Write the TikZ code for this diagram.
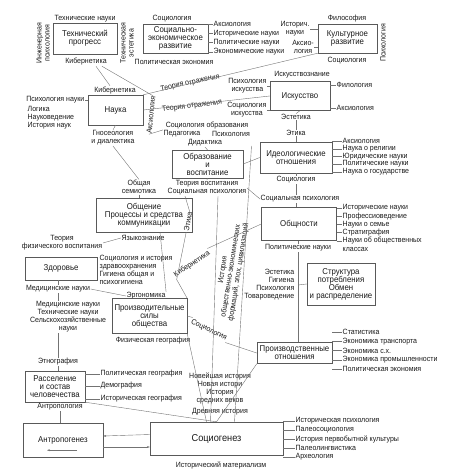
\documentclass[tikz,border=0pt]{standalone}
\usepackage{fontspec}
\setmainfont{Liberation Sans}[FakeStretch=0.92]
\usetikzlibrary{arrows.meta,positioning,calc}

\tikzset{
  box/.style={draw=black!65, thin, align=center, inner sep=1pt, text=black!90,
    font=\fontsize{8.5}{8}\selectfont},
  lbl/.style={inner sep=0.5pt, align=center, text=black!90,
    font=\fontsize{7.6}{8}\selectfont},
  conn/.style={draw=black!55, thin},
}

\begin{document}
\begin{tikzpicture}[x=1pt,y=-1pt]
\useasboundingbox (0,0) rectangle (449,474);

% top row
\node[lbl, rotate=90] (ingpsy) at (43,43) {Инженерная\\психология};
\node[lbl] (technauki) at (85,19) {Технические науки};
\node[box, minimum width=64pt, minimum height=31pt] (techprog) at (85,38.5) {Технический\\прогресс};
\node[lbl, rotate=90] (techaes) at (127,43) {Техническая\\эстетика};
\node[lbl] (kib1) at (86,62) {Кибернетика};
\node[lbl] (soc1) at (172,19) {Социология};
\node[box, minimum width=65pt, minimum height=29pt] (socecon) at (175.5,38.5) {Социально-\\экономическое\\развитие};
\foreach \t [count=\i] in {Аксиология,Исторические науки,Политические науки,Экономические науки}
  \node[lbl, anchor=west] (se\i) at (213,{24+(\i-1)*9.3}) {\t};
\foreach \i in {1,...,4}
  \draw[conn] (socecon.east |- se\i.west) -- (se\i.west);
\node[lbl] (polek1) at (174,62) {Политическая экономия};
\node[lbl] (istn) at (295,29) {Историч.\\науки};
\node[lbl] (aksio) at (303,47) {Аксио-\\логия};
\node[lbl] (filos) at (347,19) {Философия};
\node[box, minimum width=59pt, minimum height=29pt] (cult) at (347.5,38.5) {Культурное\\развитие};
\draw[conn] (istn.east) -- (cult.west |- istn.east);
\draw[conn] (aksio.east) -- (cult.west |- aksio.east);
\node[lbl, rotate=90] (psy1) at (383,43) {Психология};
\node[lbl] (soc2) at (347,61) {Социология};

% science and art
\node[lbl] (kib2) at (115,90) {Кибернетика};
\node[box, minimum width=55pt, minimum height=30pt] (nauka) at (115.5,110) {Наука};
\node[lbl, anchor=east] (psn) at (85,100) {Психология науки};
\draw[conn] (psn.east) -- (nauka.west |- psn.east);
\node[lbl, anchor=west, align=left] (logika) at (27,118) {Логика\\Науковедение\\История наук};
\node[lbl, rotate=84] (aks2) at (151,115) {Аксиология};
\node[lbl, rotate=12] (teor1) at (190,83) {Теория отражения};
\node[lbl] (iskved) at (302,75) {Искусствознание};
\node[box, minimum width=60pt, minimum height=29pt] (isk) at (300,96) {Искусство};
\node[lbl, anchor=east] (psyisk) at (267,86) {Психология\\искусства};
\node[lbl, rotate=7] (teor2) at (192,106) {Теория отражения};
\node[lbl, anchor=east] (sociisk) at (267,110) {Социология\\искусства};
\draw[conn] (psyisk.east) -- (isk.west |- psyisk.east);
\draw[conn] (sociisk.east) -- (isk.west |- sociisk.east);
\node[lbl, anchor=west] (filol) at (336,85) {Филология};
\node[lbl, anchor=west] (aks3) at (336,108) {Аксиология};
\draw[conn] (filol.west) -- (isk.east |- filol.west);
\draw[conn] (aks3.west) -- (isk.east |- aks3.west);
\node[lbl] (estet1) at (296,117) {Эстетика};
\node[lbl] (etika1) at (296,133) {Этика};

% education and ideology
\node[lbl] (gnos) at (113,138) {Гносеология\\и диалектика};
\node[lbl] (socobr) at (207,125) {Социология образования};
\node[lbl] (pedag) at (182,134) {Педагогика};
\node[lbl] (psy2) at (231,134) {Психология};
\node[lbl] (didak) at (205,143) {Дидактика};
\node[box, minimum width=71pt, minimum height=28pt] (obraz) at (207.5,164) {Образование\\и\\воспитание};
\node[box, minimum width=72pt, minimum height=31pt] (ideol) at (296,157.5) {Идеологические\\отношения};
\foreach \t [count=\i] in {Аксиология,Наука о религии,Юридические науки,Политические науки,Наука о государстве}
  \node[lbl, anchor=west] (id\i) at (342,{141+(\i-1)*7.7}) {\t};
\foreach \i in {1,...,5}
  \draw[conn] (ideol.east |- id\i.west) -- (id\i.west);
\node[lbl] (soc3) at (296,180) {Социология};
\node[lbl] (obsem) at (139,187) {Общая\\семиотика};
\node[lbl] (teorvosp) at (207,188) {Теория воспитания\\Социальная психология};
\node[lbl] (socpsy2) at (300,199) {Социальная психология};
\coordinate (vtop) at ($(obraz.north east)!0.5!(ideol.north west)$);

% communication and communities
\node[box, minimum width=96pt, minimum height=34pt] (obsh) at (144,215) {Общение\\Процессы и средства\\коммуникации};
\node[box, minimum width=75pt, minimum height=33pt] (obshn) at (299,224) {Общности};
\foreach \t [count=\i] in {Исторические науки,Профессиоведение,Науки о семье,Стратиграфия,Науки об общественных}
  \node[lbl, anchor=west] (ob\i) at (342,{208+(\i-1)*8.2}) {\t};
\node[lbl, anchor=west] (ob6) at (342,249) {классах};
\foreach \i in {1,...,5}
  \draw[conn] (obshn.east |- ob\i.west) -- (ob\i.west);
\node[lbl] (polnauki) at (298,248) {Политические науки};
\node[lbl, rotate=80] (etika2) at (188,222) {Этика};
\node[lbl] (yazyk) at (143,238) {Языкознание};

% health and productive forces
\node[lbl] (teorfiz) at (62,243) {Теория\\физического воспитания};
\node[box, minimum width=72pt, minimum height=23pt] (zdor) at (61,268.5) {Здоровье};
\node[lbl, anchor=north west, align=left] (sochist) at (99,254) {Социология и история\\здравоохранения\\Гигиена общая и\\психогигиена};
\node[lbl] (med1) at (58,289) {Медицинские науки};
\node[lbl] (ergon) at (146,296) {Эргономика};
\node[lbl] (medtech) at (68,317) {Медицинские науки\\Технические науки\\Сельскохозяйственные\\науки};
\node[box, minimum width=75pt, minimum height=35pt] (prodsil) at (149.5,316) {Производительные\\силы\\общества};
\node[lbl] (fizgeo) at (153,341) {Физическая география};
\node[lbl, rotate=34] (kib3) at (192,264) {Кибернетика};
\node[lbl, rotate=81] (istform) at (231,271) {История\\общественно-экономических\\формаций, эпох, цивилизаций};
\node[lbl, anchor=east, align=right] (estgig) at (295,285) {Эстетика\\Гигиена\\Психология\\Товароведение};
\node[box, minimum width=68pt, minimum height=42pt] (struct) at (341,284) {Структура\\потребления\\Обмен\\и распределение};
\node[lbl, rotate=-26] (soc4) at (209,330) {Социология};
\node[box, minimum width=75pt, minimum height=21pt] (prodotn) at (294.5,353) {Производственные\\отношения};
\foreach \t [count=\i] in {Статистика,Экономика транспорта,Экономика с.х.,Экономика промышленности,Политическая экономия}
  \node[lbl, anchor=west] (po\i) at (342,{332+(\i-1)*9.3}) {\t};
\foreach \i in {1,...,5}
  \draw[conn] (prodotn.east |- po\i.west) -- (po\i.west);

% bottom
\node[lbl] (etno) at (58,362) {Этнография};
\node[box, minimum width=60pt, minimum height=31pt] (rass) at (55,386.5) {Расселение\\и состав\\человечества};
\node[lbl, anchor=west] (rs1) at (100,374) {Политическая география};
\node[lbl, anchor=west] (rs2) at (100,386) {Демография};
\node[lbl, anchor=west] (rs3) at (100,399) {Историческая география};
\foreach \i in {1,2,3}
  \draw[conn] (rass.east |- rs\i.west) -- (rs\i.west);
\node[lbl] (antropol) at (60,407) {Антропология};
\node[box, minimum width=80pt, minimum height=34pt] (antrop) at (63,440) {Антропогенез};
\node[box, minimum width=133pt, minimum height=33pt, font=\fontsize{10}{10}\selectfont] (sociogen) at (216.5,438.5) {Социогенез};
\node[lbl] (histmat) at (221,465) {Исторический материализм};
\node[lbl] (hist) at (220,394) {Новейшая история\\Новая истори\\История\\средних веков\\[3pt]Древняя история};
\foreach \t [count=\i] in {Историческая психология,Палеосоциология,История первобытной культуры,Палеолингвистика,Археология}
  \node[lbl, anchor=west] (sg\i) at (295,{421+(\i-1)*9}) {\t};
\foreach \i in {1,...,5}
  \draw[conn] (sociogen.east |- sg\i.west) -- (sg\i.west);

% connections
\draw[conn] ($(kib1.south)+(10,0)$) -- ($(kib2.north)+(-5,0)$);
\draw[conn] ($(kib1.south)+(16,0)$) -- (aks2.east);
\draw[conn] (nauka.north east) -- (cult.south west);
\draw[conn] (nauka.east) -- (isk.west);
\draw[conn] (aks2.west) -- (pedag.north west);
\draw[conn] (nauka.south) -- (gnos.north);
\draw[conn] (gnos.south) -- (obsem.north);
\draw[conn] (obsem.south) -- (obsh.north -| obsem.south);
\draw[conn] (didak.south) -- (obraz.north);
\draw[conn] (obraz.east) -- (ideol.west);
\draw[conn] (obraz.south) -- (teorvosp.north);
\draw[conn] (isk.south) -- (estet1.north);
\draw[conn] (estet1.south) -- (etika1.north);
\draw[conn] (etika1.south) -- (ideol.north);
\draw[conn] (ideol.south) -- (soc3.north);
\draw[conn] (soc3.south) -- (socpsy2.north -| soc3.south);
\draw[conn] (socpsy2.south -| soc3.south) -- (obshn.north -| soc3.south);
\draw[conn] (teorvosp.east) -- (socpsy2.west);
\draw[conn] (obshn.south -| polnauki.north) -- (polnauki.north);
\draw[conn] (polnauki.south) -- (prodotn.north -| polnauki.south);
\draw[conn] (estgig.east -| polnauki.south) -- (struct.west);
\draw[conn] (teorfiz.east) -- (yazyk.west);
\draw[conn] ($(obsh.south)+(16,0)$) -- (ergon.north east);
\draw[conn] ($(teorvosp.south)+(-22,0)$) -- (etika2.east);
\draw[conn] (etika2.west) -- (kib3.south west);
\draw[conn] (prodsil.north east) -- (kib3.south west);
\draw[conn] (kib3.north east) -- (obshn.west);
\draw[conn] (zdor.south -| med1.north) -- (med1.north);
\draw[conn] (med1.south) -- (medtech.north -| med1.south);
\draw[conn] (med1.east) -- (ergon.west);
\draw[conn] (ergon.south) -- (prodsil.north -| ergon.south);
\draw[conn] (medtech.south -| med1.south) -- (etno.north -| med1.south);
\draw[conn] (etno.south -| med1.south) -- (rass.north -| med1.south);
\draw[conn] (rass.south -| antropol.north) -- (antropol.north);
\draw[conn] (antropol.south) -- (antrop.north -| antropol.south);
\draw[conn] (prodsil.east) -- (soc4.north west);
\draw[conn] (soc4.south east) -- (prodotn.west);
\draw[conn] (prodsil.south east) -- ($(sociogen.north)+(-10,0)$);
\draw[conn] ($(teorvosp.south)+(11,0)$) -- ($(sociogen.north)+(-6,0)$);
\draw[conn] (vtop) -- ($(sociogen.north)+(18,0)$);
\draw[conn] (rass.south east) -- (sociogen.north);
\draw[conn] (prodotn.south west) -- (sociogen.north);
\draw[conn, -{Stealth[length=3pt,width=2pt]}] ($(antrop.south)+(14,-7)$) -- ++(-30,0);
\draw[conn, -{Stealth[length=3pt,width=2pt]}] ($(sociogen.west)+(0,-4)$) -- ($(antrop.east)+(0,-4)$);
\draw[conn, -{Stealth[length=3pt,width=2pt]}] ($(antrop.east)+(0,7)$) -- ($(sociogen.west)+(0,8.5)$);
\end{tikzpicture}
\end{document}
